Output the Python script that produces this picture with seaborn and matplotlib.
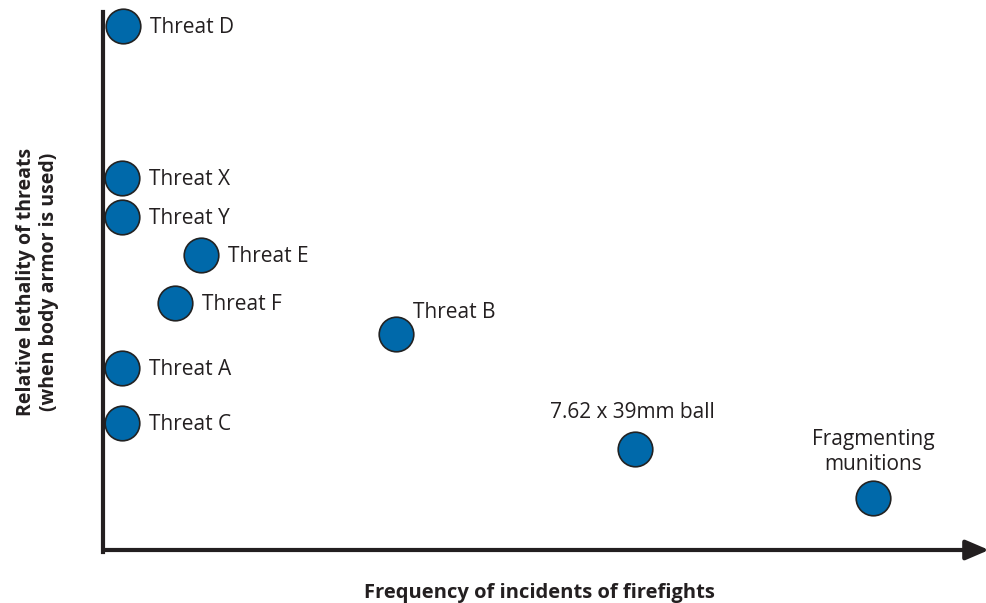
import numpy as np
import pandas as pd
import matplotlib.pyplot as plt
import seaborn as sns

threats = ['Threat D', 'Threat X', 'Threat Y', 'Threat E', 'Threat F',
           'Threat B', 'Threat A', 'Threat C', '7.62 x 39mm ball', 'Fragmenting\nmunitions']
frequency = [20, 19, 19, 98, 72, 293, 19, 19, 532, 770]
lethality = [526, 374, 335, 297, 249, 218, 184, 129, 103, 54]

# label placement: (dx, dy, ha, va) in data units
label_pos = {
    'Threat B': (17, 21, 'left', 'center'),
    '7.62 x 39mm ball': (-3, 37, 'center', 'center'),
    'Fragmenting\nmunitions': (0, 46, 'center', 'center'),
}

df = pd.DataFrame({'threat': threats, 'freq': frequency, 'leth': lethality})

sns.set_style('white')
plt.rcParams['font.family'] = ['Open Sans', 'DejaVu Sans']

fig = plt.figure(figsize=(9.87, 6.03), dpi=100)
ax = fig.add_axes([103 / 987, 51 / 603, 872 / 987, 540 / 603])

sns.scatterplot(data=df, x='freq', y='leth', s=620, color='#0069AA',
                edgecolor='#222222', linewidth=1.2, ax=ax, zorder=3, clip_on=False)

for name, x, y in zip(threats, frequency, lethality):
    dx, dy, ha, va = label_pos.get(name, (27, -1.5, 'left', 'center'))
    ax.text(x + dx, y + dy, name, ha=ha, va=va, fontsize=15, color='#231f20',
            linespacing=1.3)

ax.set_xlim(0, 872)
ax.set_ylim(0, 540)
ax.set_xticks([])
ax.set_yticks([])
for side in ['top', 'right', 'bottom']:
    ax.spines[side].set_visible(False)
ax.spines['left'].set_linewidth(3)
ax.spines['left'].set_color('#231f20')

ax.annotate('', xy=(886, 2), xytext=(0, 2), xycoords='data', annotation_clip=False,
            arrowprops=dict(arrowstyle='-|>,head_length=1.4,head_width=0.6',
                            color='#231f20', lw=3, shrinkA=0, shrinkB=0))

ax.set_xlabel('Frequency of incidents of firefights', fontsize=14.5, fontweight='bold',
              color='#231f20', labelpad=22)
ax.set_ylabel('Relative lethality of threats\n(when body armor is used)', fontsize=14,
              fontweight='bold', color='#231f20', labelpad=32, linespacing=1.2)

fig.savefig('out.png', dpi=100)
